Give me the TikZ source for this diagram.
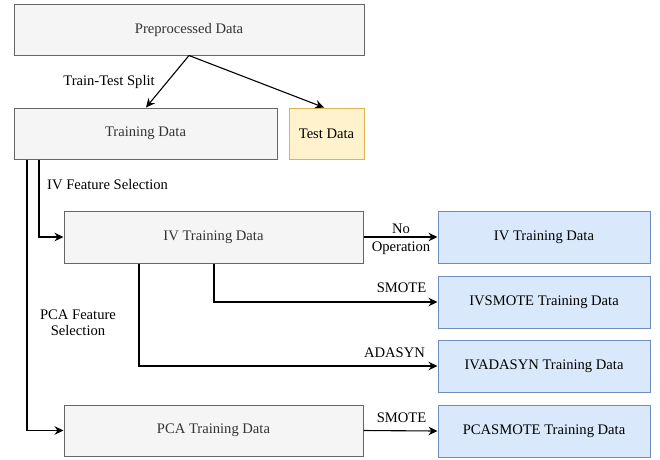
\documentclass[tikz,border=0pt]{standalone}
\usepackage{fontspec}
\setmainfont{Liberation Serif}
\usetikzlibrary{arrows.meta}
\definecolor{grayfill}{HTML}{F5F5F5}
\definecolor{graydraw}{HTML}{666666}
\definecolor{graytext}{HTML}{333333}
\definecolor{yelfill}{HTML}{FFF2CC}
\definecolor{yeldraw}{HTML}{D6B656}
\definecolor{bluefill}{HTML}{DAE8FC}
\definecolor{bluedraw}{HTML}{6C8EBF}
\begin{document}
\begin{tikzpicture}[x=1pt,y=-1pt,
  base/.style={draw, line width=1pt, inner sep=0pt, minimum height=51pt, font=\fontsize{14.6}{17}\selectfont, anchor=center},
  graybox/.style={base, fill=grayfill, draw=graydraw, text=graytext},
  yelbox/.style={base, fill=yelfill, draw=yeldraw, text=black},
  bluebox/.style={base, fill=bluefill, draw=bluedraw, text=black, minimum width=212pt},
  conn/.style={line width=1.1pt, -{Stealth[length=9pt,width=8.5pt,inset=3pt]}},
  lbl/.style={font=\fontsize{14.6}{17}\selectfont, inner sep=0pt, align=center, text=black}
]
\useasboundingbox[fill=white] (0,0) rectangle (660,459);
% boxes
\node[graybox, minimum width=350pt] (pre) at (189,29.5) {Preprocessed Data};
\node[graybox, minimum width=263pt] (train) at (145.5,133.5) {Training Data};
\node[yelbox, minimum width=75pt] (test) at (326.5,133.5) {Test Data};
\node[graybox, minimum width=299pt, minimum height=52pt] (ivt) at (213.5,237) {IV Training Data};
\node[graybox, minimum width=299pt] (pca) at (213.5,430.5) {PCA Training Data};
\node[bluebox, minimum height=52pt] (b1) at (544,237) {IV Training Data};
\node[bluebox, minimum height=52pt] (b2) at (544,302) {IVSMOTE Training Data};
\node[bluebox, minimum height=52pt] (b3) at (544,366) {IVADASYN Training Data};
\node[bluebox, minimum height=52pt] (b4) at (544,431) {PCASMOTE Training Data};
% helper coordinates
\coordinate (x146) at (146,0);
\coordinate (x324) at (324,0);
\coordinate (x39) at (39,0);
\coordinate (x27) at (27,0);
\coordinate (x214) at (214,0);
\coordinate (x139) at (139,0);
% connectors
\draw[conn] (pre.south) -- (train.north -| x146);
\draw[conn] (pre.south) -- (test.north -| x324);
\draw[conn] (train.south -| x39) |- (ivt.west);
\draw[conn] (train.south -| x27) |- (pca.west);
\draw[conn] (ivt.east) -- (b1.west);
\draw[conn] (ivt.south -| x214) |- (b2.west);
\draw[conn] (ivt.south -| x139) |- (b3.west);
\draw[conn] (pca.east) -- (b4.west);
% labels
\node[lbl] (l1) at (109,82) {Train-Test Split};
\node[lbl, anchor=west] (l2) at (47,185) {IV Feature Selection};
\node[lbl, align=center] (l3) at (78,322.5) {PCA Feature\\[-1pt]Selection};
\node[lbl] (l4) at (401,229) {No};
\node[lbl] (l5) at (401,248) {Operation};
\node[lbl] (l6) at (401.5,288) {SMOTE};
\node[lbl] (l7) at (394.5,353) {ADASYN};
\node[lbl] (l8) at (401.5,418) {SMOTE};
\end{tikzpicture}
\end{document}
